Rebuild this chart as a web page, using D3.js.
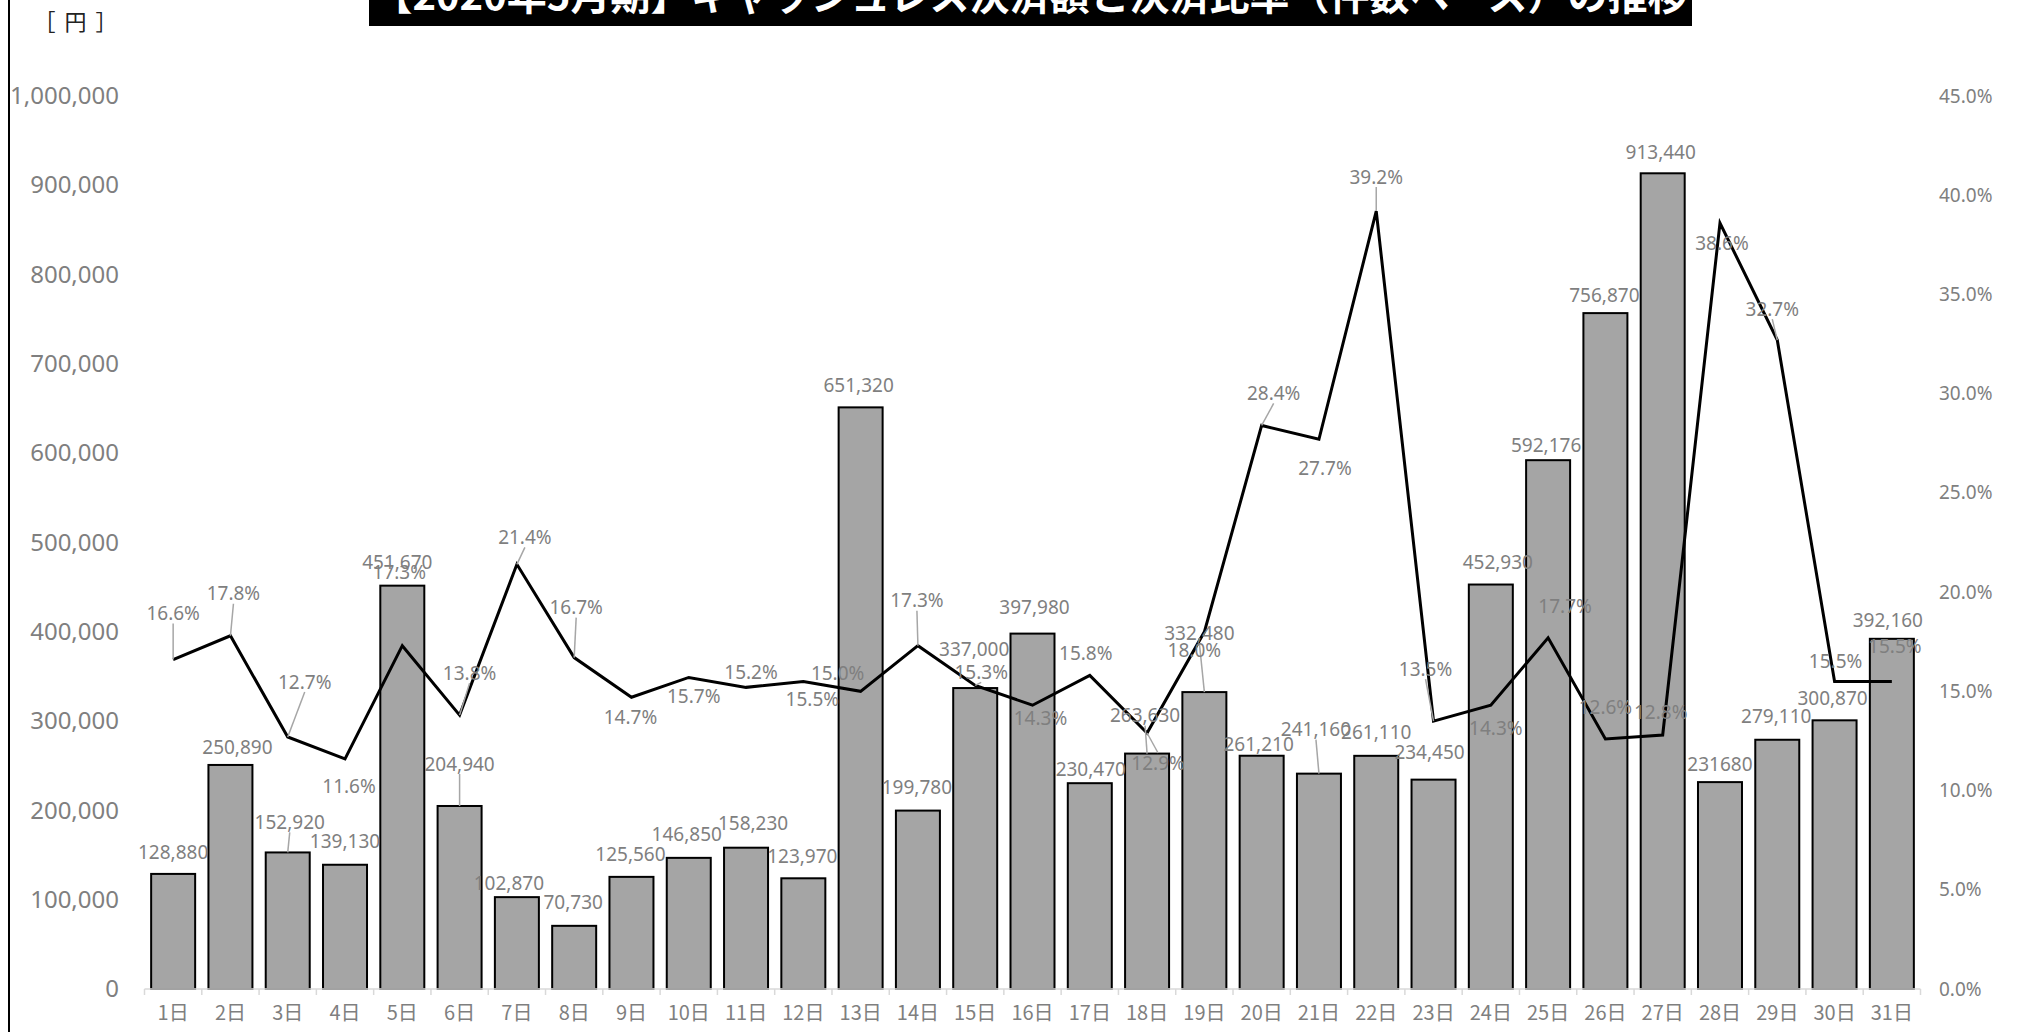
<!DOCTYPE html>
<html lang="ja">
<head>
<meta charset="utf-8">
<title>キャッシュレス決済額と決済比率の推移</title>
<script src="https://d3js.org/d3.v7.min.js"></script>
<style>
  body { margin: 0; background: #fff; overflow: hidden; }
  text { font-family: "Noto Sans", "Noto Sans CJK JP", sans-serif; }
</style>
</head>
<body>
<script>
// データ
var days = ["1日","2日","3日","4日","5日","6日","7日","8日","9日","10日",
            "11日","12日","13日","14日","15日","16日","17日","18日","19日","20日",
            "21日","22日","23日","24日","25日","26日","27日","28日","29日","30日","31日"];

// 決済額 [円]
var amounts = [128880, 250890, 152920, 139130, 451670, 204940, 102870, 70730, 125560, 146850,
               158230, 123970, 651320, 199780, 337000, 397980, 230470, 263630, 332480, 261210,
               241160, 261110, 234450, 452930, 592176, 756870, 913440, 231680, 279110, 300870, 392160];

// 決済比率 (件数ベース) [%]
var rates = [16.6, 17.8, 12.7, 11.6, 17.3, 13.8, 21.4, 16.7, 14.7, 15.7,
             15.2, 15.5, 15.0, 17.3, 15.3, 14.3, 15.8, 12.9, 18.0, 28.4,
             27.7, 39.2, 13.5, 14.3, 17.7, 12.6, 12.8, 38.6, 32.7, 15.5, 15.5];

var amountTicks = [0, 100000, 200000, 300000, 400000, 500000, 600000, 700000, 800000, 900000, 1000000];
var rateTicks = [0, 5, 10, 15, 20, 25, 30, 35, 40, 45];

var titleText = "【2020年5月期】キャッシュレス決済額と決済比率（件数ベース）の推移";
var unitText = "［円］";
var noCommaDays = ["28日"];   // 元の表でカンマ無しのラベル

// ラベルの手動配置 (Excel で動かした位置を再現) [dx, dy]
var barLabelShift = [[0,-22],[7,-18],[2,-30],[0,-23],[-5,-23],[0,-42],[-8,-14],[-1,-23],[-1,-23],[-2,-24],
                     [7,-24],[-1,-22],[-2,-22],[-1,-23],[-1,-39],[2,-26],[1,-14],[-2,-38],[-5,-59],[-3,-11],
                     [-3,-44],[0,-23],[-4,-27],[7,-22],[-2,-15],[-1,-18],[-2,-21],[0,-18],[-1,-23],[-2,-22],[-4,-18]];
var rateLabelShift = [[0,-46],[3,-42],[17,-55],[4,28],[-3,-73],[10,-42],[8,-27],[2,-50],[-1,20],[5,19],
                      [5,-15],[9,18],[-23,-18],[-1,-45],[6,-13],[8,13],[-4,-22],[11,30],[-10,19],[12,-32],
                      [6,29],[0,-34],[-8,-52],[5,23],[17,-31],[0,-32],[-2,-23],[2,20],[-5,-31],[1,-20],[3,-35]];
var barLeaders = ["3日","6日","18日","19日","21日"];
var rateLeaders = ["1日","2日","3日","6日","7日","8日","14日","15日","18日","20日","22日","23日","29日"];

var w = 2022;
var h = 1032;
var plotLeft = 144.5, plotRight = 1920.5;
var plotTop = 96, plotBottom = 989;
var labelGray = "#7f7f7f";

var svg = d3.select("body").append("svg")
    .attr("width", w)
    .attr("height", h);

// スケール
var xScale = d3.scaleBand()
    .domain(days)
    .range([plotLeft, plotRight])
    .paddingInner(0.232)
    .paddingOuter(0.116);

var yLeft = d3.scaleLinear()
    .domain([0, 1000000])
    .range([plotBottom, plotTop]);

var yRight = d3.scaleLinear()
    .domain([0, 45])
    .range([plotBottom, plotTop]);

var cx = function(d) { return xScale(d) + xScale.bandwidth() / 2; };

// 左の枠線
svg.append("line")
    .attr("x1", 9).attr("x2", 9)
    .attr("y1", 0).attr("y2", h)
    .attr("stroke", "#000")
    .attr("stroke-width", 2);

// タイトル (上端で切れている)
svg.append("rect")
    .attr("x", 369).attr("y", -12)
    .attr("width", 1323).attr("height", 38)
    .attr("fill", "#000");
svg.append("text")
    .attr("x", 1030).attr("y", 10)
    .attr("text-anchor", "middle")
    .attr("fill", "#fff")
    .attr("font-size", 40)
    .attr("font-weight", "bold")
    .style("font-family", "'Noto Sans CJK JP', sans-serif")
    .text(titleText);

// 単位
svg.append("text")
    .attr("x", 80).attr("y", 30)
    .attr("text-anchor", "middle")
    .attr("font-size", 22)
    .attr("letter-spacing", 9)
    .attr("fill", "#222")
    .style("font-family", "'Noto Sans CJK JP', sans-serif")
    .text(unitText);

// 棒グラフ
svg.selectAll("rect.bar")
    .data(days)
    .enter()
    .append("rect")
    .attr("class", "bar")
    .attr("x", function(d) { return xScale(d); })
    .attr("y", function(d, i) { return yLeft(amounts[i]); })
    .attr("width", xScale.bandwidth())
    .attr("height", function(d, i) { return plotBottom - yLeft(amounts[i]); })
    .attr("fill", "#a5a5a5")
    .attr("stroke", "#000")
    .attr("stroke-width", 2);

// 横軸
svg.append("line")
    .attr("x1", plotLeft).attr("x2", plotRight)
    .attr("y1", plotBottom).attr("y2", plotBottom)
    .attr("stroke", "#d9d9d9")
    .attr("stroke-width", 1.5);
var step = xScale.step();
svg.selectAll("line.tick-mark")
    .data(days.concat(["end"]))
    .enter()
    .append("line")
    .attr("class", "tick-mark")
    .attr("x1", function(d, i) { return plotLeft + i * step; })
    .attr("x2", function(d, i) { return plotLeft + i * step; })
    .attr("y1", plotBottom).attr("y2", plotBottom + 6)
    .attr("stroke", "#d9d9d9")
    .attr("stroke-width", 1.5);

var xAxis = svg.append("g")
    .attr("transform", "translate(0," + plotBottom + ")")
    .call(d3.axisBottom(xScale).tickSize(0).tickPadding(17));
xAxis.select(".domain").remove();
xAxis.selectAll("text")
    .attr("font-size", 20)
    .attr("fill", labelGray)
    .style("font-family", "'Noto Sans CJK JP', sans-serif");

// 左軸
var leftAxis = svg.append("g")
    .attr("transform", "translate(119,0)")
    .call(d3.axisLeft(yLeft).tickValues(amountTicks).tickSize(0).tickPadding(0).tickFormat(d3.format(",")));
leftAxis.select(".domain").remove();
leftAxis.selectAll("text")
    .attr("font-size", 24)
    .attr("fill", labelGray);

// 右軸
var rightAxis = svg.append("g")
    .attr("transform", "translate(1939,0)")
    .call(d3.axisRight(yRight).tickValues(rateTicks).tickSize(0).tickPadding(0)
        .tickFormat(function(d) { return d.toFixed(1) + "%"; }));
rightAxis.select(".domain").remove();
rightAxis.selectAll("text")
    .attr("font-size", 19)
    .attr("fill", labelGray);

// 折れ線
var line = d3.line()
    .x(function(d) { return cx(d); })
    .y(function(d, i) { return yRight(rates[i]); });

svg.append("path")
    .datum(days)
    .attr("d", line)
    .attr("fill", "none")
    .attr("stroke", "#000")
    .attr("stroke-width", 3)
    .attr("stroke-linejoin", "miter");

// 引き出し線
function leader(lx, ly, ax, ay) {
    var sign = ly < ay ? 1 : -1;
    svg.append("line")
        .attr("x1", lx).attr("y1", ly + sign * 10)
        .attr("x2", ax).attr("y2", ay)
        .attr("stroke", "#a6a6a6")
        .attr("stroke-width", 1.5);
}

days.forEach(function(d, i) {
    var ax = cx(d), ay = yLeft(amounts[i]);
    if (barLeaders.indexOf(d) >= 0) {
        leader(ax + barLabelShift[i][0], ay + barLabelShift[i][1], ax, ay);
    }
    var px = cx(d), py = yRight(rates[i]);
    if (rateLeaders.indexOf(d) >= 0) {
        leader(px + rateLabelShift[i][0], py + rateLabelShift[i][1], px, py);
    }
});

// データラベル
var fmtAmount = d3.format(",");
svg.selectAll("text.amount")
    .data(days)
    .enter()
    .append("text")
    .attr("class", "amount")
    .attr("x", function(d, i) { return cx(d) + barLabelShift[i][0]; })
    .attr("y", function(d, i) { return yLeft(amounts[i]) + barLabelShift[i][1]; })
    .attr("dy", "0.35em")
    .attr("text-anchor", "middle")
    .attr("font-size", 19)
    .attr("fill", labelGray)
    .text(function(d, i) {
        return noCommaDays.indexOf(d) >= 0 ? String(amounts[i]) : fmtAmount(amounts[i]);
    });

svg.selectAll("text.rate")
    .data(days)
    .enter()
    .append("text")
    .attr("class", "rate")
    .attr("x", function(d, i) { return cx(d) + rateLabelShift[i][0]; })
    .attr("y", function(d, i) { return yRight(rates[i]) + rateLabelShift[i][1]; })
    .attr("dy", "0.35em")
    .attr("text-anchor", "middle")
    .attr("font-size", 19)
    .attr("fill", labelGray)
    .text(function(d, i) { return rates[i].toFixed(1) + "%"; });
</script>
</body>
</html>
